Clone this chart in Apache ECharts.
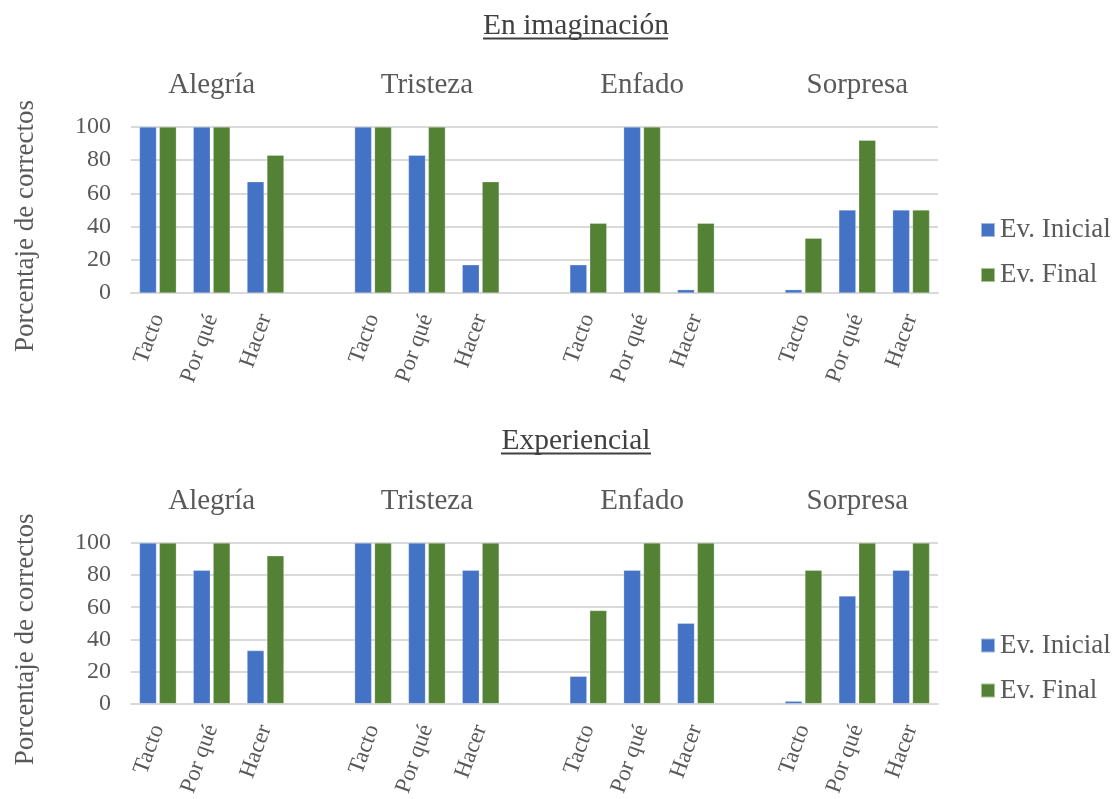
<!DOCTYPE html>
<html><head><meta charset="utf-8">
<script src="https://cdn.jsdelivr.net/npm/echarts@6/dist/echarts.min.js"></script>
<style>html,body{margin:0;padding:0;background:#fff}#c{width:1115px;height:799px}</style>
</head><body><div id="c"></div>
<script>
const emotions = ['Alegría', 'Tristeza', 'Enfado', 'Sorpresa'];
const aspects = ['Tacto', 'Por qué', 'Hacer'];
const panelTitles = ['En imaginación', 'Experiencial'];
const seriesNames = ['Ev. Inicial', 'Ev. Final'];
const yTicks = [0, 20, 40, 60, 80, 100];
const imagInicial = [100, 100, 67, 100, 83, 17, 17, 100, 2, 2, 50, 50];
const imagFinal = [100, 100, 83, 100, 100, 67, 42, 100, 42, 33, 92, 50];
const expInicial = [100, 83, 33, 100, 100, 83, 17, 83, 50, 1.5, 67, 83];
const expFinal = [100, 100, 92, 100, 100, 100, 58, 100, 100, 83, 100, 100];

const FONT = '"Liberation Serif","Times New Roman",serif';
const GREY = '#595959';
const BLUE = '#4472C4', GREEN = '#548235';

const cats = [], groupCats = [];
emotions.forEach((e, gi) => {
  aspects.forEach((a, ai) => { cats.push(a); groupCats.push(ai === 1 ? e : ''); });
  if (gi < emotions.length - 1) { cats.push(''); groupCats.push(''); }
});
function slot(vals) {
  const out = [];
  emotions.forEach((e, gi) => {
    for (let i = 0; i < aspects.length; i++) out.push(vals[gi * aspects.length + i]);
    if (gi < emotions.length - 1) out.push('-');
  });
  return out;
}
const panels = [[imagInicial, imagFinal], [expInicial, expFinal]];
const gridTops = [127, 543], gridHeights = [166, 164];
const titleTops = [11.5, 426.5], legendTops = [216.5, 632];

const grid = [], xAxis = [], yAxis = [], series = [], legend = [], graphic = [];
panels.forEach((p, i) => {
  grid.push({ left: 131, right: 177, top: gridTops[i], height: gridHeights[i] });
  xAxis.push({
    type: 'category', gridIndex: i, data: cats,
    axisLine: { lineStyle: { color: '#d9d9d9', width: 2 } },
    axisTick: { show: false },
    axisLabel: { interval: 0, rotate: 70, margin: 22, fontSize: 23, color: GREY, fontFamily: FONT }
  });
  xAxis.push({
    type: 'category', gridIndex: i, position: 'top', data: groupCats,
    axisLine: { show: false }, axisTick: { show: false },
    axisLabel: { interval: 0, margin: 27, fontSize: 29, color: GREY, fontFamily: FONT }
  });
  yAxis.push({
    type: 'value', gridIndex: i, min: yTicks[0], max: yTicks[yTicks.length - 1], interval: yTicks[1] - yTicks[0],
    name: 'Porcentaje de correctos', nameLocation: 'middle', nameGap: 92,
    nameTextStyle: { fontSize: 27, color: GREY, fontFamily: FONT, padding: [0, 32, 0, 0] },
    axisLine: { show: false }, axisTick: { show: false },
    axisLabel: { fontSize: 24, color: GREY, fontFamily: FONT, margin: 20 },
    splitLine: { lineStyle: { color: '#d9d9d9', width: 2 } }
  });
  p.forEach((vals, si) => {
    series.push({
      type: 'bar', name: seriesNames[si], xAxisIndex: i * 2, yAxisIndex: i,
      data: slot(vals), barWidth: 17, barGap: '17%',
      itemStyle: { color: si === 0 ? BLUE : GREEN, borderColor: 'rgba(255,255,255,0.5)', borderWidth: 0.5 }
    });
  });
  legend.push({
    data: seriesNames, orient: 'vertical', left: 980, top: legendTops[i], padding: 0,
    icon: 'rect', itemWidth: 14, itemHeight: 14, itemGap: 18,
    textStyle: { fontSize: 27, lineHeight: 27, color: GREY, fontFamily: FONT }
  });
  graphic.push({
    type: 'text',
    style: { text: panelTitles[i], x: 576, y: titleTops[i], align: 'center', verticalAlign: 'top',
      fontSize: 29.5, fontFamily: FONT, fill: '#404040' }
  });
});
graphic.push(
  { type: 'line', shape: { x1: 483, y1: 38.5, x2: 668, y2: 38.5 }, style: { stroke: '#404040', lineWidth: 1.8 } },
  { type: 'line', shape: { x1: 501, y1: 453.5, x2: 651, y2: 453.5 }, style: { stroke: '#404040', lineWidth: 1.8 } }
);

const chart = echarts.init(document.getElementById('c'), null, { renderer: 'canvas' });
chart.setOption({
  animation: false,
  grid, xAxis, yAxis, series, legend, graphic
});
</script></body></html>
